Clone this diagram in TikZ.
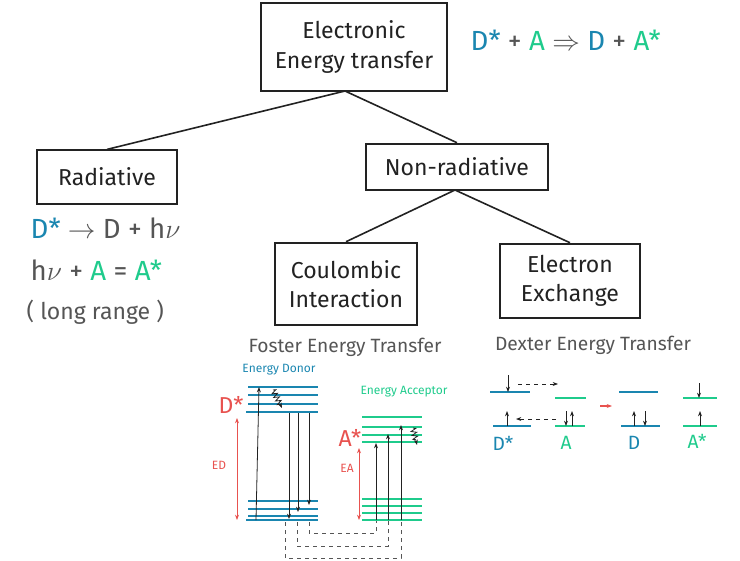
\documentclass[tikz,border=0pt]{standalone}
\usepackage{fontspec}
\setmainfont{Fira Sans}
\usetikzlibrary{decorations.pathmorphing,arrows.meta}
\definecolor{cb}{HTML}{1A86B0}
\definecolor{cg}{HTML}{1FCB8C}
\definecolor{cr}{HTML}{E8524F}
\definecolor{tx}{HTML}{222222}
\definecolor{gy}{HTML}{555555}
\begin{document}
\begin{tikzpicture}[x=0.75pt,y=-0.75pt,
 box/.style={draw=tx,line width=1.4pt,align=center,font=\LARGE,text=tx,inner sep=2pt},
 ln/.style={line width=1.2pt,draw=tx},
 lvb/.style={cb,line width=0.9pt},
 lvg/.style={cg,line width=0.9pt},
 thb/.style={cb,line width=1.8pt},
 thg/.style={cg,line width=1.8pt},
 ar/.style={-{Stealth[length=4pt]},line width=0.6pt,tx},
 da/.style={dashed,line width=0.7pt,gy},
 ra/.style={{Stealth[length=4pt]}-{Stealth[length=4pt]},cr,line width=0.6pt},
 wv/.style={-{Stealth[length=4pt]},tx,line width=0.6pt,decorate,decoration={zigzag,amplitude=2pt,segment length=3pt,post length=3pt}},
 lb/.style={font=\Large,text=gy}]
\useasboundingbox (0,0) rectangle (740,561);
\node[box,minimum width=139pt,minimum height=66pt] (top) at (354,47) {Electronic\\Energy transfer};
\node[box,minimum width=105pt,minimum height=40pt] (rad) at (107,177) {Radiative};
\node[box,minimum width=136pt,minimum height=35pt] (non) at (457,167) {Non-radiative};
\node[box,minimum width=107pt,minimum height=62pt] (cou) at (346,284) {Coulombic\\Interaction};
\node[box,minimum width=105pt,minimum height=56pt] (exc) at (570,281) {Electron\\Exchange};
\coordinate (tb) at (345,91);
\coordinate (nb) at (455,190);
\draw[ln] (tb) -- (rad.north);
\draw[ln] (tb) -- (non.north);
\draw[ln] (nb) -- (cou.north);
\draw[ln] (nb) -- (exc.north);
\node[font=\huge,anchor=west] (eq) at (466,40) {\textcolor{cb}{D*} \textcolor{gy}{+} \textcolor{cg}{A} \textcolor{gy}{$\Rightarrow$} \textcolor{cb}{D} \textcolor{gy}{+} \textcolor{cg}{A*}};
\node[font=\huge,anchor=west] (r1) at (26,228) {\textcolor{cb}{D*} \textcolor{gy}{$\rightarrow$ D + h$\nu$}};
\node[font=\huge,anchor=west] (r2) at (26,270) {\textcolor{gy}{h$\nu$ +} \textcolor{cg}{A} \textcolor{gy}{=} \textcolor{cg}{A*}};
\node[font=\LARGE,text=gy,anchor=west] (r3) at (22,312) {( long range )};
\node[lb] (ft) at (345,347) {Foster Energy Transfer};
\node[lb] (dt) at (593,345) {Dexter Energy Transfer};
% Foster donor
\node[cb,font=\small] (edn) at (279,370) {Energy Donor};
\foreach \y in {387,395,404} \draw[lvb] (248,\y) -- (318,\y);
\draw[thb] (246,412) -- (318,412);
\foreach \y in {501,509,516} \draw[lvb] (248,\y) -- (318,\y);
\draw[thb] (246,520) -- (318,520);
\draw[ar] (256,520) -- (259,387);
\draw[wv] (273,390) -- (282,408);
\draw[ar] (289,413) -- (289,519);
\draw[ar] (298,413) -- (298,512);
\draw[ar] (309,413) -- (309,505);
\node[cr,font=\LARGE] (ds) at (231,405) {D*};
\draw[ra] (237,418) -- (237,520);
\node[cr,font=\small] (ed) at (219,465) {ED};
% acceptor
\node[cg,font=\small] (eac) at (404,392) {Energy Acceptor};
\foreach \y in {417,427,435} \draw[lvg] (362,\y) -- (422,\y);
\draw[thg] (362,442) -- (422,442);
\foreach \y in {499,506,513} \draw[lvg] (362,\y) -- (422,\y);
\draw[thg] (362,520) -- (422,520);
\draw[ar] (376,520) -- (376,443);
\draw[ar] (388,520) -- (388,434);
\draw[ar] (401,520) -- (401,425);
\draw[wv] (413,428) -- (417,445);
\node[cr,font=\LARGE] (as) at (350,438) {A*};
\draw[ra] (359,448) -- (359,520);
\node[cr,font=\small] (ea) at (347,468) {EA};
\draw[da] (309,522) -- (309,533) -- (376,533) -- (376,521);
\draw[da] (297,522) -- (297,546) -- (388,546) -- (388,521);
\draw[da] (285,522) -- (285,558) -- (401,558) -- (401,521);
% Dexter
\draw[lvb] (490,392) -- (530,392);
\draw[ar] (508,375) -- (508,392);
\draw[ar,dashed] (518,384) -- (558,384);
\draw[lvg] (555,398) -- (586,398);
\draw[lvb] (493,426) -- (531,426);
\draw[ar] (507,426) -- (507,411);
\draw[ar,dashed] (556,419) -- (516,419);
\draw[lvg] (555,426) -- (585,426);
\draw[ar] (566,411) -- (566,426);
\draw[ar] (572,426) -- (572,411);
\draw[-{Stealth[length=4pt]},cr,line width=1.2pt] (600,406) -- (612,406);
\draw[lvb] (619,392) -- (658,392);
\draw[lvb] (621,426) -- (660,426);
\draw[ar] (634,426) -- (634,411);
\draw[ar] (645,411) -- (645,426);
\draw[lvg] (683,398) -- (717,398);
\draw[ar] (699,383) -- (699,398);
\draw[lvg] (683,426) -- (717,426);
\draw[ar] (700,426) -- (700,411);
\node[cb,font=\Large] (l1) at (503,443) {D*};
\node[cg,font=\Large] (l2) at (566,443) {A};
\node[cb,font=\Large] (l3) at (634,443) {D};
\node[cg,font=\Large] (l4) at (697,441) {A*};
\end{tikzpicture}
\end{document}
